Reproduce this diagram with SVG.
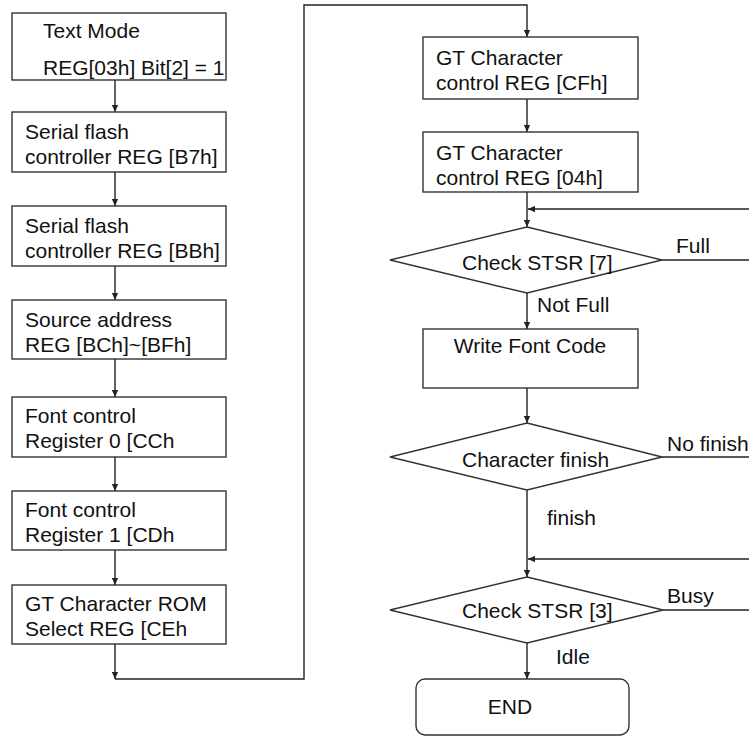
<svg xmlns="http://www.w3.org/2000/svg" width="749" height="737" viewBox="0 0 749 737">
<style>
.box{fill:#fff;stroke:#333;stroke-width:1.4}
.t{font-family:"Liberation Sans",Arial,sans-serif;font-size:21px;fill:#111}
.c{fill:none;stroke:#222;stroke-width:1.4}
</style>
<defs>
<marker id="ah" viewBox="0 0 10 10" refX="10" refY="5" markerWidth="7" markerHeight="7" markerUnits="userSpaceOnUse" orient="auto">
<path d="M0,0.5 L10,5 L0,9.5 Z" fill="#222"/>
</marker>
</defs>
<rect width="749" height="737" fill="#fff"/>
<g id="connectors">
<line class="c" x1="115" y1="80" x2="115" y2="112" marker-end="url(#ah)"/>
<line class="c" x1="115" y1="172" x2="115" y2="206" marker-end="url(#ah)"/>
<line class="c" x1="115" y1="266" x2="115" y2="300" marker-end="url(#ah)"/>
<line class="c" x1="115" y1="359" x2="115" y2="397" marker-end="url(#ah)"/>
<line class="c" x1="115" y1="457" x2="115" y2="491" marker-end="url(#ah)"/>
<line class="c" x1="115" y1="550" x2="115" y2="585" marker-end="url(#ah)"/>
<line class="c" x1="115" y1="644" x2="115" y2="679" marker-end="url(#ah)"/>
<polyline class="c" points="115,679 304,679 304,5 527,5 527,37" marker-end="url(#ah)"/>
<line class="c" x1="527" y1="99" x2="527" y2="132" marker-end="url(#ah)"/>
<line class="c" x1="527" y1="192" x2="527" y2="227" marker-end="url(#ah)"/>
<line class="c" x1="749" y1="209" x2="528" y2="209" marker-end="url(#ah)"/>
<line class="c" x1="662" y1="260" x2="749" y2="260"/>
<line class="c" x1="527" y1="293" x2="527" y2="329" marker-end="url(#ah)"/>
<line class="c" x1="527" y1="388" x2="527" y2="423" marker-end="url(#ah)"/>
<line class="c" x1="662" y1="457" x2="749" y2="457"/>
<line class="c" x1="527" y1="490" x2="527" y2="577" marker-end="url(#ah)"/>
<line class="c" x1="749" y1="559" x2="528" y2="559" marker-end="url(#ah)"/>
<line class="c" x1="663" y1="610" x2="749" y2="610"/>
<line class="c" x1="527" y1="643" x2="527" y2="679" marker-end="url(#ah)"/>
<text class="t" x="676" y="253">Full</text>
<text class="t" x="537" y="312">Not Full</text>
<text class="t" x="667" y="451">No finish</text>
<text class="t" x="547" y="525">finish</text>
<text class="t" x="667" y="603">Busy</text>
<text class="t" x="556" y="664">Idle</text>
</g>
<g id="n1"><rect class="box" x="12" y="13" width="214" height="67"/>
<text class="t" x="43" y="38">Text Mode</text><text class="t" x="43" y="75">REG[03h] Bit[2] = 1</text></g>
<g id="n2"><rect class="box" x="12" y="112" width="214" height="60"/>
<text class="t" x="25" y="139">Serial flash</text><text class="t" x="25" y="164">controller REG [B7h]</text></g>
<g id="n3"><rect class="box" x="12" y="206" width="214" height="60"/>
<text class="t" x="25" y="233">Serial flash</text><text class="t" x="25" y="258">controller REG [BBh]</text></g>
<g id="n4"><rect class="box" x="12" y="300" width="214" height="59"/>
<text class="t" x="25" y="327">Source address</text><text class="t" x="25" y="352">REG [BCh]~[BFh]</text></g>
<g id="n5"><rect class="box" x="12" y="397" width="214" height="60"/>
<text class="t" x="25" y="423">Font control</text><text class="t" x="25" y="448">Register 0 [CCh</text></g>
<g id="n6"><rect class="box" x="12" y="491" width="214" height="59"/>
<text class="t" x="25" y="517">Font control</text><text class="t" x="25" y="542">Register 1 [CDh</text></g>
<g id="n7"><rect class="box" x="12" y="585" width="214" height="59"/>
<text class="t" x="25" y="611">GT Character ROM</text><text class="t" x="25" y="636">Select REG [CEh</text></g>
<g id="n8"><rect class="box" x="423" y="37" width="215" height="62"/>
<text class="t" x="436" y="65">GT Character</text><text class="t" x="436" y="90">control REG [CFh]</text></g>
<g id="n9"><rect class="box" x="423" y="132" width="215" height="60"/>
<text class="t" x="436" y="160">GT Character</text><text class="t" x="436" y="185">control REG [04h]</text></g>
<g id="n10"><polygon class="box" points="527,227 662,260 527,293 390,260"/>
<text class="t" x="462" y="270">Check STSR [7]</text></g>
<g id="n11"><rect class="box" x="423" y="329" width="215" height="59"/>
<text class="t" x="530" y="353" text-anchor="middle">Write Font Code</text></g>
<g id="n12"><polygon class="box" points="527,423 662,457 527,490 390,457"/>
<text class="t" x="462" y="467">Character finish</text></g>
<g id="n13"><polygon class="box" points="527,577 663,610 527,643 390,610"/>
<text class="t" x="462" y="618">Check STSR [3]</text></g>
<g id="n14"><rect class="box" x="416" y="679" width="213" height="56" rx="9"/>
<text class="t" x="510" y="714" text-anchor="middle">END</text></g>
</svg>
